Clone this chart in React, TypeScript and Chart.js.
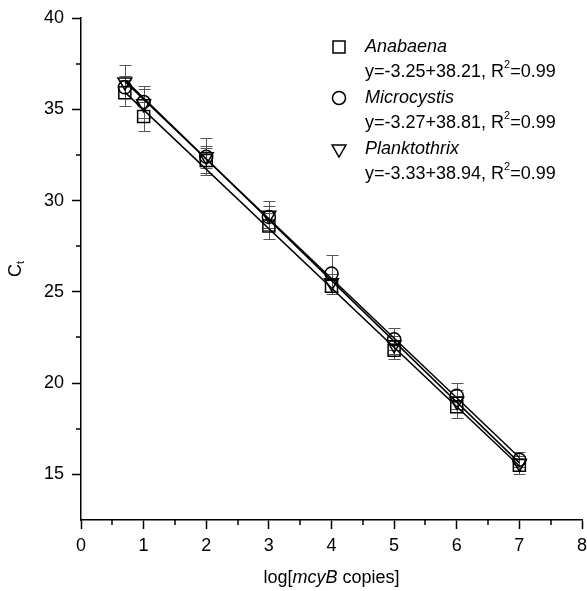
import React, { useEffect, useRef } from "react";
import { Chart, registerables } from "chart.js";

Chart.register(...registerables);

const xValues = [0.7, 1, 2, 3, 4, 5, 6, 7];
const anabaena = [35.9, 34.6, 32.2, 28.6, 25.3, 21.8, 18.7, 15.5];
const microcystis = [36.2, 35.4, 32.4, 29.1, 26.0, 22.4, 19.3, 15.8];
const planktothrix = [36.5, 35.3, 32.4, 29.2, 25.5, 22.1, 19.0, 15.6];

const anabaenaErr = [0.7, 0.8, 0.7, 0.7, 0.4, 0.5, 0.6, 0.5];
const microcystisErr = [0.6, 0.9, 0.6, 0.6, 1.0, 0.6, 0.7, 0.4];
const planktothrixErr = [0.9, 0.8, 1.0, 0.8, 0.5, 0.5, 0.6, 0.4];

const fitX = [0.7, 7];
const anabaenaFit = [35.94, 15.46];
const microcystisFit = [36.52, 15.92];
const planktothrixFit = [36.61, 15.63];

const seriesNames = ["Anabaena", "Microcystis", "Planktothrix"];
const equations = ["y=-3.25+38.21, R", "y=-3.27+38.81, R", "y=-3.33+38.94, R"];
const r2Values = ["=0.99", "=0.99", "=0.99"];

const xTicks = [0, 1, 2, 3, 4, 5, 6, 7, 8];
const xMinorTicks = [0.5, 1.5, 2.5, 3.5, 4.5, 5.5, 6.5, 7.5];
const yTicks = [15, 20, 25, 30, 35, 40];
const yMinorTicks = [17.5, 22.5, 27.5, 32.5, 37.5];

const FONT = "'Liberation Sans', Arial, sans-serif";

function drawSymbol(ctx: CanvasRenderingContext2D, kind: string, x: number, y: number) {
  ctx.save();
  ctx.strokeStyle = "#000";
  ctx.lineWidth = 1.5;
  ctx.beginPath();
  if (kind === "rect") {
    ctx.rect(x - 6, y - 6, 12, 12);
  } else if (kind === "circle") {
    ctx.arc(x, y, 6.5, 0, Math.PI * 2);
  } else {
    const r = 8;
    ctx.moveTo(x, y + r);
    ctx.lineTo(x - r * Math.sin(Math.PI / 3), y - r / 2);
    ctx.lineTo(x + r * Math.sin(Math.PI / 3), y - r / 2);
    ctx.closePath();
  }
  ctx.stroke();
  ctx.restore();
}

const overlayPlugin = {
  id: "overlay",
  beforeDatasetsDraw(chart: any) {
    const ctx = chart.ctx as CanvasRenderingContext2D;
    const xs = chart.scales.x;
    const ys = chart.scales.y;
    const groups = [
      [anabaena, anabaenaErr],
      [microcystis, microcystisErr],
      [planktothrix, planktothrixErr],
    ];
    ctx.save();
    ctx.strokeStyle = "#555";
    ctx.lineWidth = 1;
    groups.forEach(([vals, errs]) => {
      vals.forEach((v, i) => {
        const px = Math.round(xs.getPixelForValue(xValues[i])) + 0.5;
        const top = Math.round(ys.getPixelForValue(v + errs[i])) + 0.5;
        const bot = Math.round(ys.getPixelForValue(v - errs[i])) + 0.5;
        ctx.beginPath();
        ctx.moveTo(px, top);
        ctx.lineTo(px, bot);
        ctx.moveTo(px - 6, top);
        ctx.lineTo(px + 6, top);
        ctx.moveTo(px - 6, bot);
        ctx.lineTo(px + 6, bot);
        ctx.stroke();
      });
    });
    ctx.restore();
  },
  afterDraw(chart: any) {
    const ctx = chart.ctx as CanvasRenderingContext2D;
    const xs = chart.scales.x;
    const ys = chart.scales.y;
    const area = chart.chartArea;
    ctx.save();
    ctx.strokeStyle = "#000";
    ctx.lineWidth = 1.5;
    ctx.beginPath();
    xMinorTicks.forEach((v) => {
      const px = Math.round(xs.getPixelForValue(v));
      ctx.moveTo(px, area.bottom);
      ctx.lineTo(px, area.bottom + 5);
    });
    yMinorTicks.forEach((v) => {
      const py = Math.round(ys.getPixelForValue(v));
      ctx.moveTo(area.left, py);
      ctx.lineTo(area.left - 5, py);
    });
    ctx.stroke();

    const kinds = ["rect", "circle", "triangle"];
    const rowY = [47, 98, 149];
    ctx.fillStyle = "#000";
    ctx.textBaseline = "middle";
    ctx.textAlign = "left";
    kinds.forEach((k, i) => {
      drawSymbol(ctx, k, 339, rowY[i]);
      ctx.font = `italic 18px ${FONT}`;
      ctx.fillText(seriesNames[i], 365, rowY[i]);
      ctx.font = `18px ${FONT}`;
      const ey = rowY[i] + 25;
      ctx.fillText(equations[i], 365, ey);
      const w = ctx.measureText(equations[i]).width;
      ctx.font = `11px ${FONT}`;
      ctx.fillText("2", 365 + w, ey - 7);
      const w2 = ctx.measureText("2").width;
      ctx.font = `18px ${FONT}`;
      ctx.fillText(r2Values[i], 365 + w + w2, ey);
    });

    const parts: [string, string][] = [
      ["log[", "normal"],
      ["mcyB", "italic"],
      [" copies]", "normal"],
    ];
    let total = 0;
    parts.forEach(([t, s]) => {
      ctx.font = `${s === "italic" ? "italic " : ""}18px ${FONT}`;
      total += ctx.measureText(t).width;
    });
    let cx = (area.left + area.right) / 2 - total / 2;
    const ty = 578;
    parts.forEach(([t, s]) => {
      ctx.font = `${s === "italic" ? "italic " : ""}18px ${FONT}`;
      ctx.fillText(t, cx, ty);
      cx += ctx.measureText(t).width;
    });

    ctx.translate(16, (area.top + area.bottom) / 2);
    ctx.rotate(-Math.PI / 2);
    ctx.font = `18px ${FONT}`;
    const cw = ctx.measureText("C").width;
    ctx.font = `11px ${FONT}`;
    const tw = ctx.measureText("t").width;
    const start = -(cw + tw) / 2;
    ctx.font = `18px ${FONT}`;
    ctx.fillText("C", start, 0);
    ctx.font = `11px ${FONT}`;
    ctx.fillText("t", start + cw, 5);
    ctx.restore();
  },
};

export default function App() {
  const canvasRef = useRef<HTMLCanvasElement | null>(null);

  useEffect(() => {
    document.body.style.margin = "0";
    const canvas = canvasRef.current;
    if (!canvas) return;
    const pts = (vals: number[]) => vals.map((v, i) => ({ x: xValues[i], y: v }));
    const fit = (vals: number[]) => vals.map((v, i) => ({ x: fitX[i], y: v }));
    const chart = new Chart(canvas, {
      type: "scatter",
      data: {
        datasets: [
          { type: "line", data: fit(anabaenaFit), borderColor: "#000", borderWidth: 1.5, pointRadius: 0, fill: false } as any,
          { type: "line", data: fit(microcystisFit), borderColor: "#000", borderWidth: 1.5, pointRadius: 0, fill: false } as any,
          { type: "line", data: fit(planktothrixFit), borderColor: "#000", borderWidth: 1.5, pointRadius: 0, fill: false } as any,
          {
            label: seriesNames[0],
            data: pts(anabaena),
            pointStyle: "rect",
            pointRadius: 8.5,
            borderColor: "#000",
            borderWidth: 1.5,
            backgroundColor: "rgba(0,0,0,0)",
          },
          {
            label: seriesNames[1],
            data: pts(microcystis),
            pointStyle: "circle",
            pointRadius: 6.5,
            borderColor: "#000",
            borderWidth: 1.5,
            backgroundColor: "rgba(0,0,0,0)",
          },
          {
            label: seriesNames[2],
            data: pts(planktothrix),
            pointStyle: "triangle",
            rotation: 180,
            pointRadius: 8,
            borderColor: "#000",
            borderWidth: 1.5,
            backgroundColor: "rgba(0,0,0,0)",
          },
        ],
      },
      options: {
        animation: false,
        responsive: false,
        devicePixelRatio: 1,
        layout: { autoPadding: false, padding: { left: 0, top: 18, right: 5, bottom: 0 } },
        plugins: { legend: { display: false }, tooltip: { enabled: false } },
        scales: {
          x: {
            type: "linear",
            min: 0,
            max: 8,
            afterFit: (s: any) => {
              s.height = 71;
              s.paddingLeft = 0;
              s.paddingRight = 0;
            },
            afterBuildTicks: (s: any) => {
              s.ticks = xTicks.map((v) => ({ value: v }));
            },
            grid: { drawOnChartArea: false, tickLength: 9, tickWidth: 1.5, tickColor: "#000" },
            border: { display: true, color: "#000", width: 1.5 },
            ticks: { color: "#000", font: { family: FONT, size: 18 }, padding: 6, maxRotation: 0 },
          },
          y: {
            type: "linear",
            min: 12.5,
            max: 40,
            afterFit: (s: any) => {
              s.width = 81;
              s.paddingTop = 0;
              s.paddingBottom = 0;
            },
            afterBuildTicks: (s: any) => {
              s.ticks = yTicks.map((v) => ({ value: v }));
            },
            grid: { drawOnChartArea: false, tickLength: 9, tickWidth: 1.5, tickColor: "#000" },
            border: { display: true, color: "#000", width: 1.5 },
            ticks: { color: "#000", font: { family: FONT, size: 18 }, padding: 8 },
          },
        },
      },
      plugins: [overlayPlugin],
    });
    return () => chart.destroy();
  }, []);

  return (
    <div style={{ width: 587, height: 591 }}>
      <canvas ref={canvasRef} width={587} height={591} />
    </div>
  );
}
